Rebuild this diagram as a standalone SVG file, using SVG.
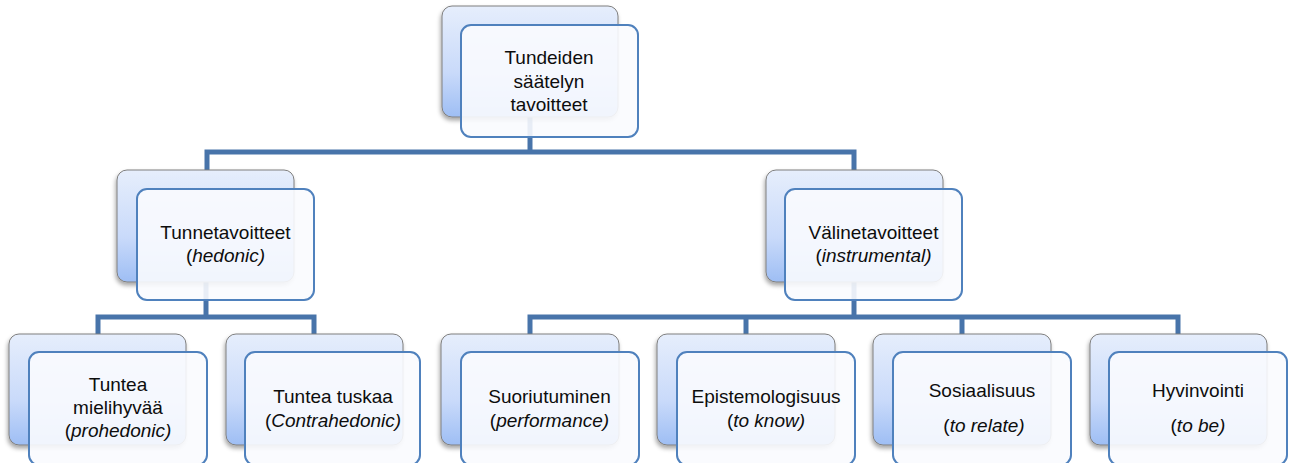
<svg xmlns="http://www.w3.org/2000/svg" width="1294" height="463" viewBox="0 0 1294 463">
<style>
.back{fill:url(#gBack);stroke:#7f7f7f;stroke-width:1;filter:url(#shadow)}
.front{fill:#f9fbfe;fill-opacity:0.9;stroke:#4f81bd;stroke-width:2}
.conn{fill:none;stroke:#4874aa;stroke-width:5;stroke-linejoin:miter;stroke-linecap:butt}
text{font-family:"Liberation Sans",Arial,sans-serif;font-size:19px;fill:#0d0d0d;text-anchor:middle}
.it{font-style:italic}
</style>
<defs>
<linearGradient id="gBack" x1="0" y1="0" x2="0" y2="1">
<stop offset="0" stop-color="#e6eefc"/>
<stop offset="0.6" stop-color="#c9dafa"/>
<stop offset="1" stop-color="#9ebef4"/>
</linearGradient>
<filter id="shadow" x="-10%" y="-10%" width="125%" height="130%">
<feDropShadow dx="-1" dy="3" stdDeviation="2" flood-color="#000" flood-opacity="0.35"/>
</filter>
</defs>
<g id="connectors">
<path class="conn" d="M530,117 V152"/>
<path class="conn" d="M207,170 V152 H854 V170"/>
<path class="conn" d="M206,282 V317"/>
<path class="conn" d="M98,334 V317 H314 V334"/>
<path class="conn" d="M854,282 V317"/>
<path class="conn" d="M530,334 V317 H1178 V334"/>
<path class="conn" d="M746,317 V334"/>
<path class="conn" d="M962,317 V334"/>
</g>
<g id="root">
<rect class="back" x="442" y="6" width="176" height="111" rx="10"/>
<rect class="front" x="461" y="25" width="177" height="112" rx="10"/>
<text x="549" y="64">Tundeiden</text>
<text x="549" y="88">säätelyn</text>
<text x="549" y="111">tavoitteet</text>
</g>
<g id="hedonic">
<rect class="back" x="117" y="170" width="177" height="112" rx="10"/>
<rect class="front" x="137" y="189" width="177" height="111" rx="10"/>
<text x="225.5" y="239">Tunnetavoitteet</text>
<text x="225.5" y="262">(<tspan class="it">hedonic)</tspan></text>
</g>
<g id="instrumental">
<rect class="back" x="766" y="170" width="177" height="112" rx="10"/>
<rect class="front" x="785" y="189" width="177" height="111" rx="10"/>
<text x="873.5" y="239">Välinetavoitteet</text>
<text x="873.5" y="262">(<tspan class="it">instrumental)</tspan></text>
</g>
<g id="prohedonic">
<rect class="back" x="9" y="334" width="177" height="111" rx="10"/>
<rect class="front" x="29" y="352" width="178" height="113" rx="10"/>
<text x="118" y="391">Tuntea</text>
<text x="118" y="414">mielihyvää</text>
<text x="118" y="437">(<tspan class="it">prohedonic)</tspan></text>
</g>
<g id="contrahedonic">
<rect class="back" x="226" y="334" width="177" height="111" rx="10"/>
<rect class="front" x="245" y="352" width="175" height="113" rx="10"/>
<text x="333" y="403">Tuntea tuskaa</text>
<text x="333" y="427">(<tspan class="it">Contrahedonic)</tspan></text>
</g>
<g id="performance">
<rect class="back" x="441" y="334" width="178" height="111" rx="10"/>
<rect class="front" x="461" y="352" width="178" height="113" rx="10"/>
<text x="549.5" y="403">Suoriutuminen</text>
<text x="549.5" y="427">(<tspan class="it">performance)</tspan></text>
</g>
<g id="toknow">
<rect class="back" x="657" y="334" width="178" height="111" rx="10"/>
<rect class="front" x="677" y="352" width="178" height="113" rx="10"/>
<text x="766" y="403">Epistemologisuus</text>
<text x="766" y="427">(<tspan class="it">to know)</tspan></text>
</g>
<g id="torelate">
<rect class="back" x="873" y="334" width="178" height="111" rx="10"/>
<rect class="front" x="893" y="352" width="178" height="113" rx="10"/>
<text x="982" y="397">Sosiaalisuus</text>
<text x="984" y="432">(<tspan class="it">to relate)</tspan></text>
</g>
<g id="tobe">
<rect class="back" x="1090" y="334" width="177" height="111" rx="10"/>
<rect class="front" x="1109" y="352" width="178" height="113" rx="10"/>
<text x="1198" y="397">Hyvinvointi</text>
<text x="1198" y="432">(<tspan class="it">to be)</tspan></text>
</g>
</svg>
